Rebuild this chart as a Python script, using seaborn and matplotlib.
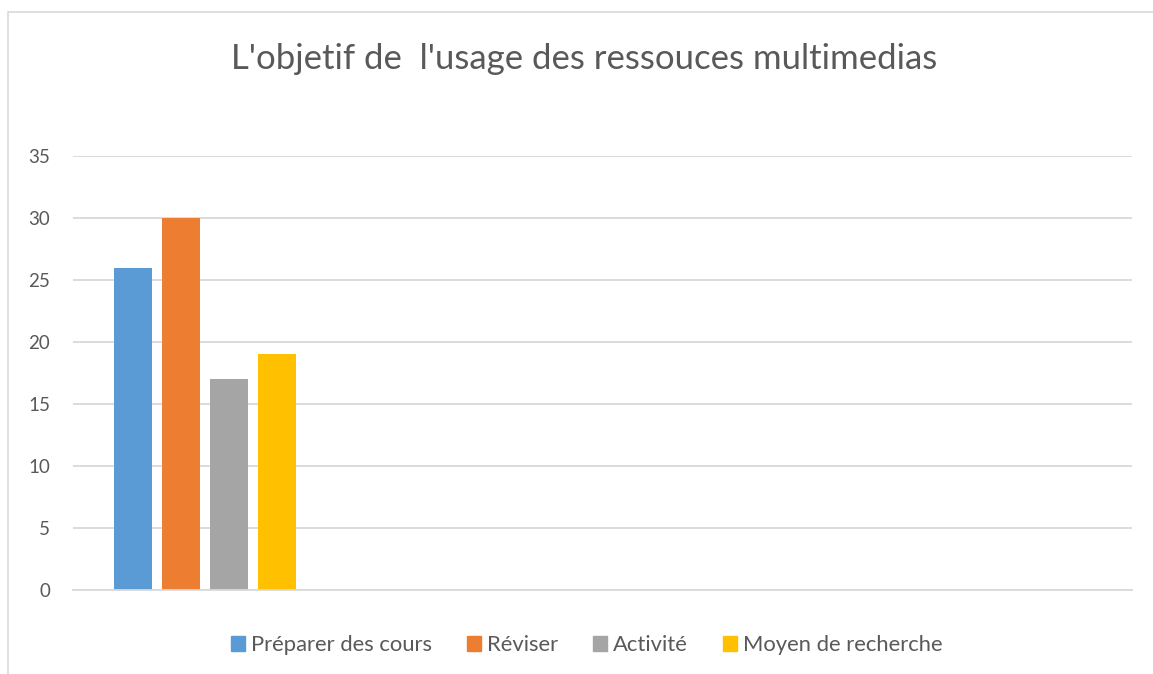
import pandas as pd
import matplotlib.pyplot as plt
import matplotlib.patches as mpatches
import seaborn as sns

# data
categories = [""]
series = ["Préparer des cours", "Réviser", "Activité", "Moyen de recherche"]
values = [26, 30, 17, 19]
colors = ["#5B9BD5", "#ED7D31", "#A5A5A5", "#FFC000"]
yticks = [0, 5, 10, 15, 20, 25, 30, 35]

df = pd.DataFrame({
    "categorie": categories * len(series),
    "serie": series,
    "valeur": values,
})

sns.set_theme(style="white")
plt.rcParams["font.family"] = ["Lato", "DejaVu Sans"]

text_color = "#595959"
grid_color = "#d9d9d9"

fig = plt.figure(figsize=(11.53, 6.74), dpi=100)
ax = fig.add_axes([0.0633, 0.1246, 0.9185, 0.644])

sns.barplot(data=df, x="categorie", y="valeur", hue="serie",
            hue_order=series, palette=colors, width=0.8, gap=0.21,
            saturation=1, linewidth=0, legend=False, ax=ax)

ax.set_xlim(-0.55, 3.8625)
ax.set_ylim(0, 35)
ax.set_yticks(yticks)
ax.yaxis.grid(True, color=grid_color, linewidth=1.3)
ax.set_axisbelow(True)
for s in ["top", "right", "left"]:
    ax.spines[s].set_visible(False)
ax.spines["bottom"].set_color(grid_color)
ax.spines["bottom"].set_linewidth(1.3)
ax.set_xticks([])
ax.set_xlabel("")
ax.set_ylabel("")
ax.tick_params(axis="y", length=0, pad=16.5, labelsize=13.5, labelcolor=text_color)

fig.text(0.507, 0.913, "L'objetif de  l'usage des ressouces multimedias",
         ha="center", va="center", fontsize=25, color=text_color)

handles = [mpatches.Patch(color=c, label=s) for c, s in zip(colors, series)]
fig.legend(handles=handles, loc="center", bbox_to_anchor=(0.5087, 0.043), ncol=4,
           frameon=False, fontsize=15.8, handlelength=0.64, handleheight=0.64,
           handletextpad=0.27, columnspacing=1.6, labelcolor=text_color)

# light frame of the chart area
frame = mpatches.Rectangle((8 / 1153, -0.1), 1.2, 1 - 12 / 674 + 0.1,
                           transform=fig.transFigure, fill=False,
                           edgecolor=grid_color, linewidth=1.2)
fig.patches.append(frame)

fig.savefig("out.png", dpi=100, facecolor="white")
